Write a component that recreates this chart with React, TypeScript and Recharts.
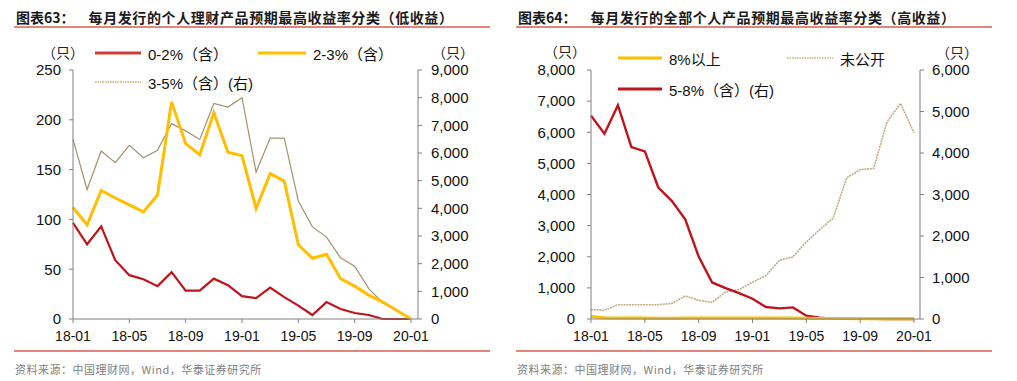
import React from "react";
import { LineChart, Line, XAxis, YAxis } from "recharts";

// months shown on both panels
const months = [
  "18-01", "18-02", "18-03", "18-04", "18-05", "18-06", "18-07", "18-08", "18-09",
  "18-10", "18-11", "18-12", "19-01", "19-02", "19-03", "19-04", "19-05", "19-06",
  "19-07", "19-08", "19-09", "19-10", "19-11", "19-12", "20-01",
];

// 图表63 (low yield)
const low02 = [96.5, 75, 93, 59, 44, 40, 33, 47, 28.5, 28.5, 40.5, 34, 23, 21, 31.5, 22, 13.5, 4, 17, 10, 6, 4, 0, 0, 0];
const low23 = [112, 94.5, 129, 121.5, 114.5, 107.5, 124.5, 218, 176, 165, 207, 167.5, 164, 111, 146, 138.5, 74.5, 61, 65, 40.5, 33, 24, 17, 8.5, 0];
const low35 = [6490, 4680, 6070, 5650, 6280, 5830, 6100, 7060, 6800, 6490, 7790, 7660, 8000, 5310, 6540, 6540, 4260, 3330, 2960, 2210, 1910, 1100, 580, 300, 0];
const leftTicksL = [0, 50, 100, 150, 200, 250];
const leftTicksR = [0, 1000, 2000, 3000, 4000, 5000, 6000, 7000, 8000, 9000];

// 图表64 (high yield)
const high8 = [80, 40, 35, 30, 30, 25, 25, 30, 30, 30, 35, 30, 30, 30, 30, 30, 25, 20, 15, 15, 10, 10, 10, 10, 10];
const undisclosed = [300, 280, 460, 460, 460, 460, 500, 740, 600, 536, 870, 945, 1180, 1394, 1887, 1994, 2476, 2873, 3248, 4535, 4800, 4835, 6335, 6925, 5980];
const mid58 = [4900, 4464, 5152, 4144, 4040, 3168, 2848, 2400, 1504, 880, 744, 624, 488, 288, 256, 280, 80, 32, 10, 5, 3, 2, 0, 0, 0];
const rightTicksL = [0, 1000, 2000, 3000, 4000, 5000, 6000, 7000, 8000];
const rightTicksR = [0, 1000, 2000, 3000, 4000, 5000, 6000];

const leftData = months.map((m, i) => ({ m, a: low02[i], b: low23[i], c: low35[i] }));
const rightData = months.map((m, i) => ({ m, a: high8[i], b: undisclosed[i], c: mid58[i] }));

const RED = "#C0141C";
const YELLOW = "#FFBE00";
const AXIS = "#808080";
const RULE = "#E3857A";
const CJK = "'Noto Sans CJK SC', sans-serif";
const LATIN = "'Liberation Sans', Arial, 'Noto Sans CJK SC', sans-serif";

const fmt = (v: number) => v.toLocaleString("en-US");

const abs = (x: number, y: number): React.CSSProperties => ({ position: "absolute", left: x, top: y });

const LegendItem = ({ x, y, color, dash, label, w = 46 }: any) => (
  <div style={{ ...abs(x, y - 10), display: "flex", alignItems: "center", height: 20, whiteSpace: "nowrap" }}>
    <svg width={w} height={6} style={{ marginRight: 7 }}>
      <line x1={0} y1={3} x2={w} y2={3} stroke={color} strokeWidth={dash ? 2 : 3} strokeDasharray={dash ? "1.5 1" : undefined} />
    </svg>
    <span style={{ fontFamily: LATIN, fontSize: 15, color: "#111" }}>{label}</span>
  </div>
);

const Unit = ({ x, y }: any) => (
  <div style={{ ...abs(x, y - 10), fontFamily: CJK, fontSize: 14, color: "#222", lineHeight: "20px" }}>（只）</div>
);

const Header = ({ x, no, text }: any) => (
  <>
    <div style={{ ...abs(x, 7), fontFamily: CJK, fontWeight: 700, fontSize: 14, color: "#1a1a1a", whiteSpace: "nowrap", lineHeight: "20px" }}>
      <span style={{ marginRight: 14 }}>图表{no}：</span>
      <span style={{ letterSpacing: 0.6 }}>{text}</span>
    </div>
    <div style={{ ...abs(x - 2, 26), width: 476, height: 2, background: RULE }} />
    <div style={{ ...abs(x - 2, 350), width: 476, height: 2, background: RULE }} />
    <div style={{ ...abs(x - 1, 360), fontFamily: CJK, fontSize: 11, color: "#808080", lineHeight: "18px", letterSpacing: 0.5 }}>
      资料来源：中国理财网，Wind，华泰证券研究所
    </div>
  </>
);

const tickStyle = { fill: "#111", fontSize: 15, fontFamily: LATIN };

export default function App() {
  return (
    <div style={{ position: "absolute", left: 0, top: 0, width: 1017, height: 381, background: "#fff", overflow: "hidden" }}>
      <Header x={16} no="63" text="每月发行的个人理财产品预期最高收益率分类（低收益）" />
      <Header x={518} no="64" text="每月发行的全部个人产品预期最高收益率分类（高收益）" />

      {/* left panel */}
      <div style={abs(0, 0)}>
        <LineChart width={510} height={381} data={leftData} margin={{ top: 70, right: 0, bottom: 0, left: 0 }} style={{ fontFamily: LATIN }}>
          <XAxis dataKey="m" interval={3} height={62} padding={{ left: 0, right: 7 }} stroke={AXIS} tickSize={4} tickMargin={8}
            tick={{ ...tickStyle, fontSize: 14 }} />
          <YAxis yAxisId="l" width={73} domain={[0, 250]} ticks={leftTicksL} stroke={AXIS} tickSize={4} tickMargin={8} tick={tickStyle} />
          <YAxis yAxisId="r" orientation="right" width={92} domain={[0, 9000]} ticks={leftTicksR} tickFormatter={fmt}
            stroke={AXIS} tickSize={4} tickMargin={9} tick={tickStyle} />
          <Line yAxisId="r" dataKey="c" stroke="#A3916C" strokeWidth={1.2} dot={false} isAnimationActive={false} />
          <Line yAxisId="l" dataKey="a" stroke={RED} strokeWidth={2.2} dot={false} isAnimationActive={false} />
          <Line yAxisId="l" dataKey="b" stroke={YELLOW} strokeWidth={3} dot={false} isAnimationActive={false} />
        </LineChart>
      </div>

      {/* right panel */}
      <div style={abs(505, 0)}>
        <LineChart width={512} height={381} data={rightData} margin={{ top: 70, right: 0, bottom: 0, left: 0 }} style={{ fontFamily: LATIN }}>
          <XAxis dataKey="m" interval={3} height={62} padding={{ left: 0, right: 6 }} stroke={AXIS} tickSize={4} tickMargin={8}
            tick={{ ...tickStyle, fontSize: 14 }} />
          <YAxis yAxisId="l" width={86} domain={[0, 8000]} ticks={rightTicksL} tickFormatter={fmt} stroke={AXIS} tickSize={4} tickMargin={12} tick={tickStyle} />
          <YAxis yAxisId="r" orientation="right" width={97} domain={[0, 6000]} ticks={rightTicksR} tickFormatter={fmt}
            stroke={AXIS} tickSize={4} tickMargin={8} tick={tickStyle} />
          <Line yAxisId="l" dataKey="b" stroke="#C2AD84" strokeWidth={1.6} strokeDasharray="2 0.8" dot={false} isAnimationActive={false} />
          <Line yAxisId="r" dataKey="c" stroke={RED} strokeWidth={2.4} dot={false} isAnimationActive={false} />
          <Line yAxisId="l" dataKey="a" stroke={YELLOW} strokeWidth={3} dot={false} isAnimationActive={false} />
        </LineChart>
      </div>

      <Unit x={42} y={52} />
      <Unit x={432} y={52} />
      <Unit x={544} y={51} />
      <Unit x={936} y={52} />

      <LegendItem x={95} y={53} color="#D23A35" label="0-2%（含）" />
      <LegendItem x={258} y={53} color={YELLOW} label="2-3%（含）" w={48} />
      <LegendItem x={95} y={82} color="#C9C08E" dash label="3-5%（含）(右)" />
      <LegendItem x={618} y={58} color={YELLOW} label="8%以上" w={44} />
      <LegendItem x={787} y={58} color="#D2C3A3" dash label="未公开" />
      <LegendItem x={618} y={89} color={RED} label="5-8%（含）(右)" w={44} />
    </div>
  );
}
